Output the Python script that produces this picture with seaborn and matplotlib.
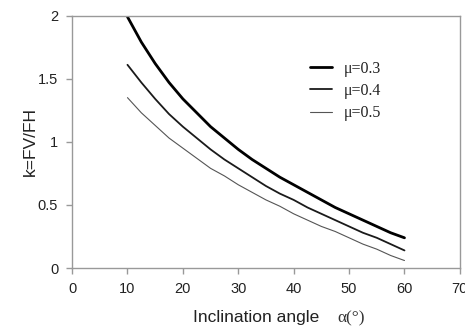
import numpy as np
import pandas as pd
import matplotlib
matplotlib.use("Agg")
import matplotlib.pyplot as plt
import seaborn as sns

# Werte (alle 2.5 Grad)
angle = [10, 12.5, 15, 17.5, 20, 22.5, 25, 27.5, 30, 32.5, 35,
         37.5, 40, 42.5, 45, 47.5, 50, 52.5, 55, 57.5, 60]
k_mu03 = [1.99, 1.79, 1.62, 1.47, 1.34, 1.23, 1.12, 1.03, 0.94, 0.86, 0.79,
          0.72, 0.66, 0.60, 0.54, 0.48, 0.43, 0.38, 0.33, 0.28, 0.24]
k_mu04 = [1.61, 1.47, 1.34, 1.22, 1.12, 1.03, 0.94, 0.86, 0.79, 0.72, 0.65,
          0.59, 0.54, 0.48, 0.43, 0.38, 0.33, 0.28, 0.24, 0.19, 0.14]
k_mu05 = [1.35, 1.23, 1.13, 1.03, 0.95, 0.87, 0.79, 0.73, 0.66, 0.60, 0.54,
          0.49, 0.43, 0.38, 0.33, 0.29, 0.24, 0.19, 0.15, 0.10, 0.06]
labels = ["\u03bc=0.3", "\u03bc=0.4", "\u03bc=0.5"]
colors = ["#000000", "#1a1a1a", "#555555"]
widths = [2.0, 1.3, 0.8]

sns.set_style("white")
plt.rcParams["font.family"] = ["Liberation Sans", "DejaVu Sans"]

fig = plt.figure(figsize=(4.65, 3.31), dpi=100)
ax = fig.add_axes([0.155, 0.190, 0.834, 0.763])

for ys, lab, c, w in zip([k_mu03, k_mu04, k_mu05], labels, colors, widths):
    sns.lineplot(x=angle, y=ys, ax=ax, color=c, linewidth=w, label=lab)

ax.set_xlim(0, 70)
ax.set_ylim(0, 2)
ax.set_xticks(range(0, 71, 10))
ax.set_yticks([0, 0.5, 1, 1.5, 2])
ax.set_yticklabels(["0", "0.5", "1", "1.5", "2"])

for s in ax.spines.values():
    s.set_color("#999999")
    s.set_linewidth(1.0)
ax.tick_params(axis="both", direction="out", length=4, width=1, color="#999999",
               bottom=True, left=True,
               labelsize=10.5, labelcolor="#222222", pad=6)

ax.set_ylabel("k=FV/FH", fontsize=12.5, color="#222222", labelpad=0)
ax.set_xlabel("Inclination angle", fontsize=12.5, color="#222222", x=0.474, labelpad=10)
fig.text(0.755, 0.026, "\u03b1(\u00b0)", fontsize=12.5, color="#333333",
         family=["Liberation Serif", "DejaVu Serif"], ha="center", va="baseline")

leg = ax.legend(loc="upper left", bbox_to_anchor=(0.613, 0.822), frameon=False,
                borderaxespad=0, borderpad=0, handlelength=1.4, handletextpad=0.7,
                labelspacing=0.4, prop={"family": ["Liberation Serif", "DejaVu Serif"], "size": 11.5})
for t in leg.get_texts():
    t.set_color("#222222")

fig.savefig("out.png", dpi=100)
